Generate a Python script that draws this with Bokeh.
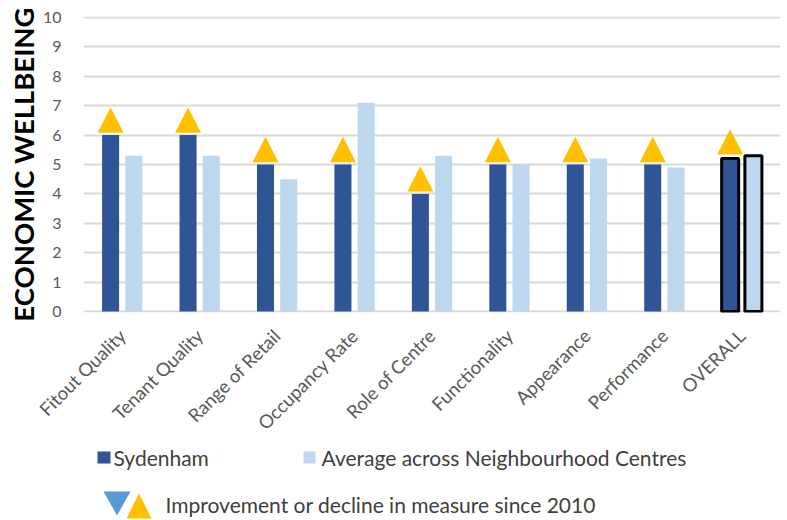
import numpy as np
from math import pi
from bokeh.plotting import figure
from bokeh.layouts import column
from bokeh.models import ColumnDataSource, Range1d, FixedTicker
from bokeh.core.properties import value
from bokeh.transform import dodge
from bokeh.embed import file_html
from bokeh.resources import INLINE

# ---- data ----
categories = ["Fitout Quality", "Tenant Quality", "Range of Retail", "Occupancy Rate",
              "Role of Centre", "Functionality", "Appearance", "Performance", "OVERALL"]
sydenham = [6, 6, 5, 5, 4, 5, 5, 5, 5.2]
average = [5.3, 5.3, 4.5, 7.1, 5.3, 5.0, 5.2, 4.9, 5.3]
change_since_2010 = ["up", "up", "up", "up", "up", "up", "up", "up", "up"]
y_ticks = [0, 1, 2, 3, 4, 5, 6, 7, 8, 9, 10]
series_names = ["Sydenham", "Average across Neighbourhood Centres"]
change_note = "Improvement or decline in measure since 2010"

DARK = "#2F5597"
LIGHT = "#BDD7EE"
YELLOW = "#FFC000"
BLUE = "#5B9BD5"
TXT = "#595959"

idx = np.arange(len(categories))
is_overall = [c == "OVERALL" for c in categories]

W, H = 787, 520
H_MAIN = 444
BL, BR = 83, 7
p = figure(width=W, height=H_MAIN, output_backend="svg", toolbar_location=None,
           x_range=Range1d(-0.5, 8.5), y_range=Range1d(-0.03, 10.03),
           min_border_left=BL, min_border_right=BR, min_border_top=16,
           min_border_bottom=H_MAIN - 313)
p.outline_line_color = None
p.background_fill_color = "white"
p.border_fill_color = "white"

# grid
p.xgrid.visible = False
p.ygrid.ticker = FixedTicker(ticks=y_ticks)
p.ygrid.grid_line_color = "#D9D9D9"
p.ygrid.grid_line_width = 2

# y axis
p.yaxis.ticker = FixedTicker(ticks=y_ticks)
p.yaxis.axis_line_color = None
p.yaxis.major_tick_line_color = None
p.yaxis.minor_tick_line_color = None
p.yaxis.major_label_text_font = "Lato"
p.yaxis.major_label_text_font_size = "16px"
p.yaxis.major_label_text_color = TXT
p.yaxis.major_label_standoff = 16
p.yaxis.axis_label = "ECONOMIC WELLBEING"
p.yaxis.axis_label_text_font = "Lato"
p.yaxis.axis_label_text_font_style = "bold"
p.yaxis.axis_label_text_font_size = "27.5px"
p.yaxis.axis_label_text_color = "black"
p.yaxis.axis_label_standoff = 0

# x axis
p.xaxis.ticker = FixedTicker(ticks=list(idx))
p.xaxis.major_label_overrides = {int(i): c for i, c in zip(idx, categories)}
p.xaxis.major_label_orientation = pi / 4
p.xaxis.axis_line_color = None
p.xaxis.major_tick_line_color = None
p.xaxis.minor_tick_line_color = None
p.xaxis.major_label_text_font = "Lato"
p.xaxis.major_label_text_font_size = "18.5px"
p.xaxis.major_label_text_color = TXT
p.xaxis.major_label_standoff = 14

src = ColumnDataSource(dict(
    x=idx, syd=sydenham, avg=average,
    lw=[3 if o else 0 for o in is_overall],
    la=[1 if o else 0 for o in is_overall],
))
off = 0.15
bw = 0.22
p.vbar(x=dodge("x", -off, range=p.x_range), top="syd", width=bw, bottom=0, source=src,
       fill_color=DARK, line_color="black", line_width="lw", line_alpha="la")
p.vbar(x=dodge("x", off, range=p.x_range), top="avg", width=bw, bottom=0, source=src,
       fill_color=LIGHT, line_color="black", line_width="lw", line_alpha="la")

# change markers (triangles above Sydenham bars)
hw, th = 0.168, 0.86
tri_xs, tri_ys, tri_col = [], [], []
for i, v, d, o in zip(idx, sydenham, change_since_2010, is_overall):
    cx = i - off
    gap = 0.08 + (0.06 if o else 0.0)
    base = v + gap
    tri_xs.append([cx - hw, cx + hw, cx])
    if d == "up":
        tri_ys.append([base, base, base + th])
        tri_col.append(YELLOW)
    else:
        tri_ys.append([base + th, base + th, base])
        tri_col.append(BLUE)
p.patches(xs="xs", ys="ys", fill_color="c", line_color=None,
          source=ColumnDataSource(dict(xs=tri_xs, ys=tri_ys, c=tri_col)))

# ---- legend panel (page-pixel space, y downwards; frame aligned with chart frame) ----
lg = figure(width=W, height=H - H_MAIN, output_backend="svg", toolbar_location=None,
            x_range=Range1d(BL, W - BR), y_range=Range1d(H, H_MAIN),
            x_axis_type=None, y_axis_type=None,
            min_border_left=BL, min_border_right=BR, min_border_top=0, min_border_bottom=0)
lg.outline_line_color = None
lg.xgrid.visible = False
lg.ygrid.visible = False

lg.quad(left=[97, 303], right=[110, 315], top=[451, 451], bottom=[463, 463],
        fill_color=[DARK, LIGHT], line_color=None)
lg.patches(xs=[[103, 130, 116.5], [126, 151, 138.5]],
           ys=[[491, 491, 515], [518, 518, 493]],
           fill_color=[BLUE, YELLOW], line_color=None)
lg.text(x=[113, 321, 165], y=[457, 457, 504],
        text=[series_names[0], series_names[1], change_note],
        text_font=value("Lato"), text_font_size="21px", text_color="#404040",
        text_baseline="middle", text_align="left")

layout = column(p, lg, spacing=0)
open("out.html", "w").write(file_html(layout, INLINE))
